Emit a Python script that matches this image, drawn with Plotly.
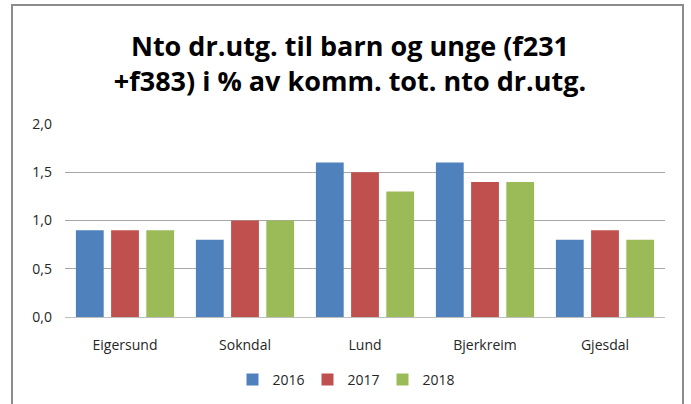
import plotly.graph_objects as go

categories = ["Eigersund", "Sokndal", "Lund", "Bjerkreim", "Gjesdal"]
years = ["2016", "2017", "2018"]
values_2016 = [0.9, 0.8, 1.6, 1.6, 0.8]
values_2017 = [0.9, 1.0, 1.5, 1.4, 0.9]
values_2018 = [0.9, 1.0, 1.3, 1.4, 0.8]
colors = ["#4F81BD", "#C0504D", "#9BBB59"]
title_text = "Nto dr.utg. til barn og unge (f231<br>+f383) i % av komm. tot. nto dr.utg."

FONT = "Open Sans, sans-serif"

fig = go.Figure()
for name, vals, col in zip(years, [values_2016, values_2017, values_2018], colors):
    fig.add_trace(go.Bar(x=categories, y=vals, name=name, marker=dict(color=col, line=dict(width=0))))

L, R, T, B = 65, 26, 124, 87
W, H = 691, 404
pw, ph = W - L - R, H - T - B

def px_x(x):
    return (x - L) / pw

def px_y(y):
    return (H - B - y) / ph

fig.update_layout(
    width=W, height=H,
    margin=dict(l=L, r=R, t=T, b=B, autoexpand=False),
    paper_bgcolor="white", plot_bgcolor="white",
    separators=", ",
    barmode="group", bargap=0.12, bargroupgap=0.21,
    font=dict(family=FONT, size=14, color="#262626"),
    title=dict(text=title_text, x=px_x(350), xref="paper", xanchor="center",
               y=1 - 56 / H, yref="container", yanchor="middle",
               font=dict(family=FONT, size=27, color="black", weight="bold")),
    legend=dict(orientation="h", x=px_x(345), xanchor="center", y=px_y(380), yanchor="middle",
                font=dict(size=14), traceorder="normal", itemwidth=30,
                entrywidth=30, entrywidthmode="pixels"),
    xaxis=dict(showgrid=False, showline=True, linecolor="#BFBFBF", linewidth=1, ticks="",
               tickfont=dict(size=14), ticklabelstandoff=15, automargin=False),
    yaxis=dict(range=[0, 2.0], dtick=0.5, tickformat=".1f", showgrid=True, gridcolor="#A6A6A6",
               gridwidth=1, zeroline=False, showline=False, ticks="", ticklabelstandoff=12,
               tickfont=dict(size=14), automargin=False),
    shapes=[dict(type="path", xref="paper", yref="paper",
                 path=f"M {px_x(12)} {px_y(420)} L {px_x(12)} {px_y(5)} L {px_x(683)} {px_y(5)} L {px_x(683)} {px_y(420)}",
                 line=dict(color="#8C8C8C", width=2))],
)

fig.write_html("out.html", config={"displayModeBar": False},
               post_script="document.body.style.margin='0';document.body.style.overflow='hidden';")
